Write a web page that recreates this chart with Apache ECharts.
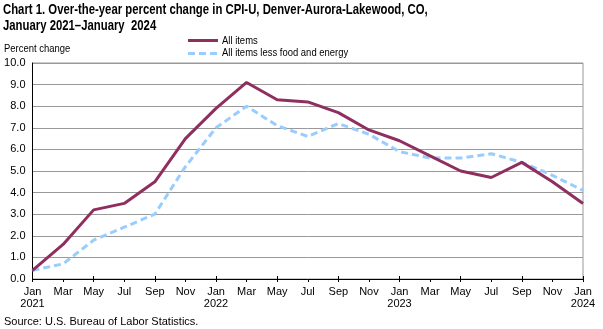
<!DOCTYPE html>
<html><head><meta charset="utf-8">
<script src="https://cdn.jsdelivr.net/npm/echarts@6/dist/echarts.min.js"></script>
<style>html,body{margin:0;padding:0;background:#fff}#c{width:603px;height:329px}</style>
</head><body><div id="c"></div>
<script>
const categories = ["Jan\n2021","Mar","May","Jul","Sep","Nov","Jan\n2022","Mar","May","Jul","Sep","Nov","Jan\n2023","Mar","May","Jul","Sep","Nov","Jan\n2024"];
const allItems = [0.4,1.6,3.2,3.5,4.5,6.5,7.9,9.1,8.3,8.2,7.7,6.9,6.4,5.7,5.0,4.7,5.4,4.5,3.5];
const coreItems = [0.4,0.7,1.8,2.4,3.0,5.2,7.0,8.0,7.1,6.6,7.2,6.7,5.9,5.6,5.6,5.8,5.4,4.8,4.1];
const yTicks = {min:0, max:10, interval:1};
const FONT = 'Liberation Sans, Arial, sans-serif';
const C_ALL = '#8E2F5F', C_CORE = '#99CCFF';

const chart = echarts.init(document.getElementById('c'));
chart.setOption({
  animation:false,
  grid:{left:32.5, right:20, top:63, bottom:50, show:true, borderColor:'#999', borderWidth:1},
  xAxis:[{type:'category', data:categories, boundaryGap:false,
    axisLine:{lineStyle:{color:'#000', width:1}},
    axisTick:{show:true, length:3, lineStyle:{color:'#000'}},
    axisLabel:{fontFamily:FONT, fontSize:11, color:'#000', margin:7, lineHeight:12, interval:0},
    splitLine:{show:false}},
   {type:'category', data:categories, boundaryGap:false, position:'bottom',
    axisLine:{show:false}, axisLabel:{show:false},
    axisTick:{show:true, inside:true, length:3, lineStyle:{color:'#000'}}}],
  yAxis:{type:'value', min:yTicks.min, max:yTicks.max, interval:yTicks.interval,
    axisLine:{show:true, lineStyle:{color:'#000'}}, axisTick:{show:false},
    axisLabel:{fontFamily:FONT, fontSize:11, color:'#000', margin:7, formatter:v=>v.toFixed(1)},
    splitLine:{lineStyle:{color:'#999', width:1}}},
  series:[
    {name:'All items less food and energy', type:'line', data:coreItems, showSymbol:false, symbol:'none',
      lineStyle:{color:C_CORE, width:3, type:[7,4]}, itemStyle:{color:C_CORE}, z:2},
    {name:'All items', type:'line', data:allItems, showSymbol:false, symbol:'none',
      lineStyle:{color:C_ALL, width:3}, itemStyle:{color:C_ALL}, z:3}
  ],
  graphic:[
    {type:'text', x:3, y:3, scaleX:0.81, style:{text:'Chart 1. Over-the-year percent change in CPI-U, Denver-Aurora-Lakewood, CO,', font:'bold 14px '+FONT, fill:'#000', verticalAlign:'top'}},
    {type:'text', x:3, y:19, scaleX:0.81, style:{text:'January 2021\u2013January  2024', font:'bold 14px '+FONT, fill:'#000', verticalAlign:'top'}},
    {type:'text', x:4, y:43, scaleX:0.86, style:{text:'Percent change', font:'11px '+FONT, fill:'#000', verticalAlign:'top'}},
    {type:'line', shape:{x1:188, y1:40.5, x2:218, y2:40.5}, style:{stroke:C_ALL, lineWidth:3}},
    {type:'text', x:222, y:35, scaleX:0.86, style:{text:'All items', font:'11px '+FONT, fill:'#000', verticalAlign:'top'}},
    {type:'line', shape:{x1:188, y1:53.5, x2:218, y2:53.5}, style:{stroke:C_CORE, lineWidth:3, lineDash:[7,4]}},
    {type:'text', x:222, y:47.5, scaleX:0.86, style:{text:'All items less food and energy', font:'11px '+FONT, fill:'#000', verticalAlign:'top'}},
    {type:'text', x:4, y:316, style:{text:'Source: U.S. Bureau of Labor Statistics.', font:'11px '+FONT, fill:'#000', verticalAlign:'top'}}
  ]
});
</script></body></html>
